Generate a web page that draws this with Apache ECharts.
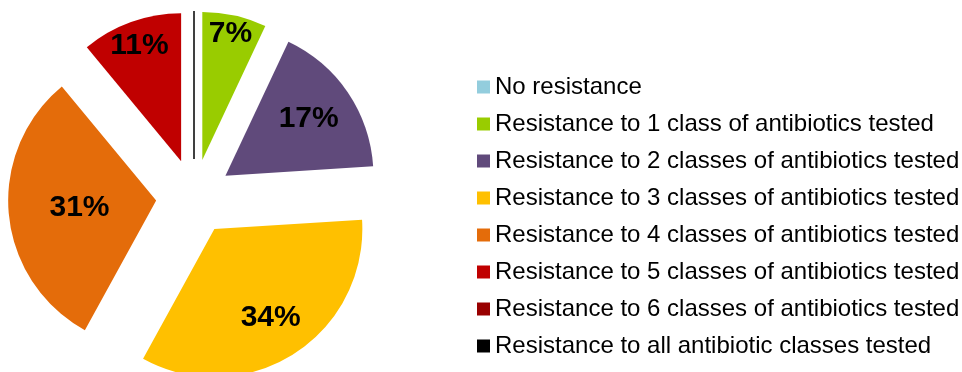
<!DOCTYPE html>
<html>
<head>
<meta charset="utf-8">
<script src="https://cdn.jsdelivr.net/npm/echarts@6/dist/echarts.min.js"></script>
<style>
  html, body { margin: 0; padding: 0; background: #ffffff; }
  #chart { width: 962px; height: 372px; }
</style>
</head>
<body>
<div id="chart"></div>
<script>
// Share of isolates by number of antibiotic classes they resist (%)
const categories = [
  'No resistance',
  'Resistance to 1 class of antibiotics tested',
  'Resistance to 2 classes of antibiotics tested',
  'Resistance to 3 classes of antibiotics tested',
  'Resistance to 4 classes of antibiotics tested',
  'Resistance to 5 classes of antibiotics tested',
  'Resistance to 6 classes of antibiotics tested',
  'Resistance to all antibiotic classes tested'
];
const shares = [0, 7, 17, 34, 31, 11, 0, 0];

// Styling
const sliceColors = ['#93CDDD', '#99CC00', '#604A7B', '#FFC000', '#E46C0A', '#C00000', '#990000', '#000000'];
const labelRadius = [0.5, 0.85, 0.66, 0.69, 0.50, 0.81, 0.5, 0.5]; // label distance as a fraction of the radius
const pieCenter = [194, 197];
const pieRadius = 148;
const explodeDist = 38;

const total = shares.reduce((a, b) => a + b, 0);
let cum = 0;
const midAngles = shares.map(v => {
  const mid = (cum + v / 2) / total * 2 * Math.PI; // clockwise from 12 o'clock
  cum += v;
  return mid;
});

// Each slice lives in its own pie series, shifted outward along its mid angle
const series = categories.map((_, i) => {
  const a = midAngles[i];
  const dx = Math.sin(a), dy = -Math.cos(a);
  const shift = (labelRadius[i] - 0.5) * pieRadius;
  return {
    type: 'pie',
    silent: true,
    animation: false,
    startAngle: 90,
    clockwise: true,
    radius: [0, pieRadius],
    center: [pieCenter[0] + explodeDist * dx, pieCenter[1] + explodeDist * dy],
    avoidLabelOverlap: false,
    labelLine: { show: false },
    emphasis: { disabled: true },
    data: categories.map((name, j) => {
      const own = j === i;
      const isLine = own && sliceColors[j] === '#000000';
      return {
        name: name,
        value: shares[j],
        itemStyle: own
          ? { color: sliceColors[j], borderColor: isLine ? '#000000' : 'transparent', borderWidth: isLine ? 1 : 0, borderRadius: 0 }
          : { color: 'rgba(0,0,0,0)', borderColor: 'rgba(0,0,0,0)', borderWidth: 0, borderRadius: 0 },
        label: {
          show: own && shares[j] > 0,
          position: 'inside',
          formatter: '{c}%',
          offset: [shift * dx, shift * dy],
          color: '#000000',
          fontFamily: 'Liberation Sans, Arial, sans-serif',
          fontWeight: 'bold',
          fontSize: 30
        }
      };
    })
  };
});

const chart = echarts.init(document.getElementById('chart'), null, { renderer: 'canvas' });
chart.setOption({
  backgroundColor: '#ffffff',
  animation: false,
  legend: {
    orient: 'vertical',
    left: 472,
    top: 70,
    padding: 5,
    itemWidth: 13,
    itemHeight: 13,
    itemGap: 13,
    icon: 'rect',
    selectedMode: false,
    textStyle: {
      color: '#000000',
      fontFamily: 'Liberation Sans, Arial, sans-serif',
      fontSize: 24,
      lineHeight: 24,
      padding: [0, 0, 0, 0]
    },
    data: categories.map((name, i) => ({
      name: name,
      itemStyle: { color: sliceColors[i], borderWidth: 0 }
    }))
  },
  series: series
});
</script>
</body>
</html>
